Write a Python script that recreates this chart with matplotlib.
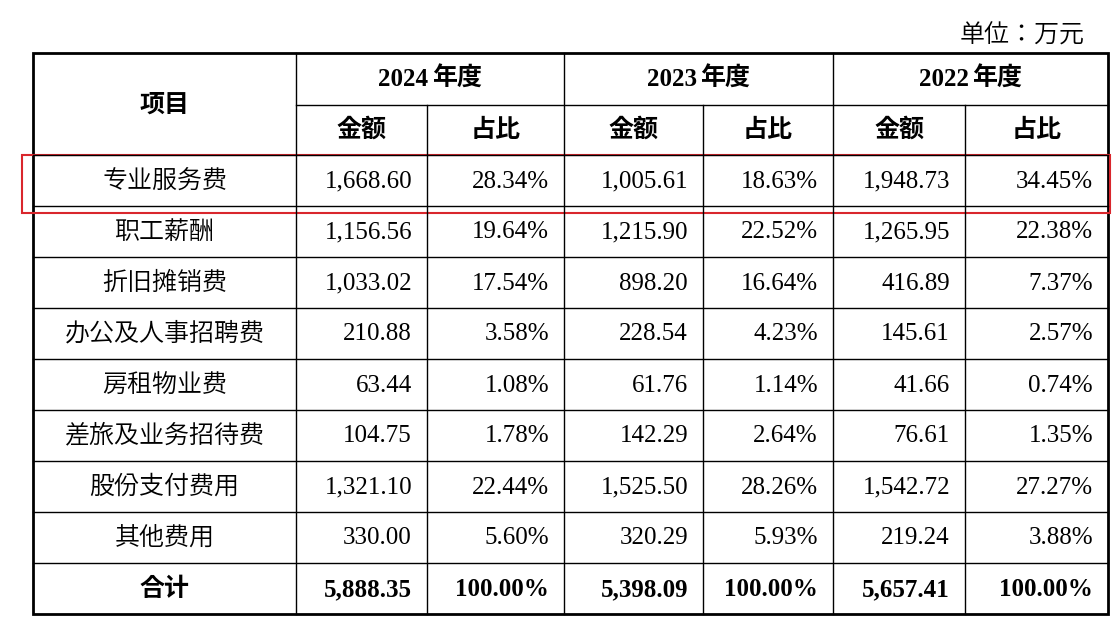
import matplotlib
matplotlib.use("Agg")
import matplotlib.pyplot as plt
from matplotlib.patches import Rectangle
from matplotlib import font_manager as fm
import glob, os

items = ["专业服务费","职工薪酬","折旧摊销费","办公及人事招聘费","房租物业费","差旅及业务招待费","股份支付费用","其他费用"]
years = ["2024","2023","2022"]
amt2024 = ["1,668.60","1,156.56","1,033.02","210.88","63.44","104.75","1,321.10","330.00"]
pct2024 = ["28.34%","19.64%","17.54%","3.58%","1.08%","1.78%","22.44%","5.60%"]
amt2023 = ["1,005.61","1,215.90","898.20","228.54","61.76","142.29","1,525.50","320.29"]
pct2023 = ["18.63%","22.52%","16.64%","4.23%","1.14%","2.64%","28.26%","5.93%"]
amt2022 = ["1,948.73","1,265.95","416.89","145.61","41.66","76.61","1,542.72","219.24"]
pct2022 = ["34.45%","22.38%","7.37%","2.57%","0.74%","1.35%","27.27%","3.88%"]
total = ["5,888.35","100.00%","5,398.09","100.00%","5,657.41","100.00%"]

# locate a CJK font file
cands = []
for pat in ["/usr/share/fonts/**/*CJK*", "/usr/local/share/fonts/**/*CJK*",
            os.path.expanduser("~/.fonts/**/*CJK*"), "/usr/share/fonts/**/*cjk*"]:
    cands += glob.glob(pat, recursive=True)
cands += [f for f in fm.findSystemFonts() if "cjk" in f.lower()]
cands = [c for c in cands if c.lower().endswith((".ttc", ".otf", ".ttf"))]
def pick(bold):
    pref = [c for c in cands if ("Bold" in c) == bold]
    for c in pref + cands:
        return c
    return None
reg_file = pick(False)
bold_file = pick(True)

W, H = 1113, 628
fig = plt.figure(figsize=(W/100, H/100), dpi=100)
ax = fig.add_axes([0, 0, 1, 1])
ax.set_xlim(0, W); ax.set_ylim(H, 0); ax.axis("off")
num = "Liberation Serif"
fs = 18
cfs = 18

def cprop(bold):
    f = bold_file if bold else reg_file
    if f:
        p = fm.FontProperties(fname=f, size=cfs)
        if bold and f == reg_file:
            p.set_weight("bold")
        return p
    return fm.FontProperties(family="Noto Sans CJK SC", size=cfs, weight="bold" if bold else "normal")

cols = [33, 296, 427, 564, 703, 833, 965, 1108]
top, h1, h2 = 53, 105, 155
rh = 51
nrows = len(items) + 1
rows = [h2 + i*rh for i in range(nrows + 1)]
bottom = rows[-1]

lw = 1.0
for y in rows[:-1]:
    ax.plot([cols[0], cols[-1]], [y, y], color="black", lw=lw)
ax.plot([cols[1], cols[-1]], [h1, h1], color="black", lw=lw)
for i, x in enumerate(cols[1:-1], start=1):
    y0 = top if i % 2 == 1 else h1
    ax.plot([x, x], [y0, bottom], color="black", lw=lw)
ax.add_patch(Rectangle((cols[0], top), cols[-1]-cols[0], bottom-top, fill=False, lw=2, ec="black"))

def ctext(x, y, s, ha="center", bold=False):
    ax.text(x, y, s, ha=ha, va="center", fontproperties=cprop(bold))

ctext(1085, 36, "单位：万元", ha="right")
ctext((cols[0]+cols[1])/2, h1, "项目", bold=True)
for k, yr in enumerate(years):
    c0, c1, c2 = cols[1+2*k], cols[2+2*k], cols[3+2*k]
    xm = (c0+c2)/2
    ax.text(xm - 2, (top+h1)/2 + 1, yr, ha="right", va="center", fontsize=fs, family=num, weight="bold")
    ctext(xm + 2, (top+h1)/2, "年度", ha="left", bold=True)
    ctext((c0+c1)/2, (h1+h2)/2, "金额", bold=True)
    ctext((c1+c2)/2, (h1+h2)/2, "占比", bold=True)

data_cols = [amt2024, pct2024, amt2023, pct2023, amt2022, pct2022]
for r, name in enumerate(items):
    yc = (rows[r] + rows[r+1]) / 2
    ctext((cols[0]+cols[1])/2, yc, name)
    for j, col in enumerate(data_cols):
        ax.text(cols[j+2]-15, yc + 1, col[r], ha="right", va="center", fontsize=fs, family=num)
yc = (rows[-2] + rows[-1]) / 2
ctext((cols[0]+cols[1])/2, yc, "合计", bold=True)
for j, v in enumerate(total):
    ax.text(cols[j+2]-15, yc + 1, v, ha="right", va="center", fontsize=fs, family=num, weight="bold")

ax.add_patch(Rectangle((22, 155), 1088, 58, fill=False, lw=1.5, ec="#d9262c"))
fig.savefig("out.png", dpi=100)
